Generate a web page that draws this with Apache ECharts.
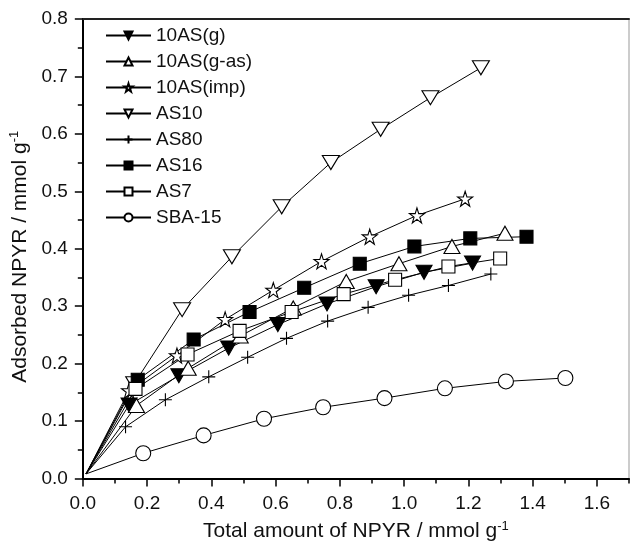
<!DOCTYPE html>
<html><head><meta charset="utf-8">
<script src="https://cdn.jsdelivr.net/npm/echarts@6/dist/echarts.min.js"></script>
<style>html,body{margin:0;padding:0;background:#fff}#c{width:630px;height:547px}</style>
</head><body><div id="c"></div>
<script>
// ---- data ----
const seriesNames = ['10AS(g)', '10AS(g-as)', '10AS(imp)', 'AS10', 'AS80', 'AS16', 'AS7', 'SBA-15'];
const origin = [0.01, 0.008];

const x10ASg   = [0.144, 0.299, 0.454, 0.607, 0.760, 0.913, 1.062, 1.213];
const y10ASg   = [0.128, 0.179, 0.227, 0.268, 0.304, 0.334, 0.359, 0.375];

const x10ASgas = [0.167, 0.328, 0.490, 0.655, 0.820, 0.984, 1.149, 1.314];
const y10ASgas = [0.127, 0.192, 0.248, 0.297, 0.343, 0.374, 0.404, 0.427];

const x10ASimp = [0.144, 0.293, 0.443, 0.593, 0.743, 0.893, 1.040, 1.190];
const y10ASimp = [0.153, 0.214, 0.277, 0.328, 0.378, 0.421, 0.458, 0.487];

const xAS10    = [0.160, 0.309, 0.464, 0.619, 0.772, 0.927, 1.082, 1.239];
const yAS10    = [0.165, 0.294, 0.386, 0.473, 0.550, 0.608, 0.663, 0.715];

const xAS80    = [0.133, 0.257, 0.392, 0.513, 0.634, 0.762, 0.888, 1.014, 1.138, 1.270];
const yAS80    = [0.090, 0.137, 0.177, 0.211, 0.244, 0.274, 0.298, 0.319, 0.336, 0.356];

const xAS16    = [0.171, 0.345, 0.519, 0.689, 0.862, 1.032, 1.206, 1.381];
const yAS16    = [0.172, 0.242, 0.290, 0.332, 0.374, 0.404, 0.418, 0.421];

const xAS7     = [0.164, 0.326, 0.488, 0.650, 0.812, 0.972, 1.138, 1.299];
const yAS7     = [0.156, 0.216, 0.257, 0.290, 0.321, 0.346, 0.369, 0.383];

const xSBA15   = [0.188, 0.376, 0.564, 0.748, 0.939, 1.127, 1.317, 1.502];
const ySBA15   = [0.044, 0.075, 0.104, 0.124, 0.140, 0.157, 0.169, 0.175];

// axis ranges / tick steps
const xRange = [0, 1.7], xMajor = 0.2, xMinor = 0.1;
const yRange = [0, 0.8], yMajor = 0.1;
const xTitle = 'Total amount of NPYR / mmol g';
const yTitle = 'Adsorbed NPYR / mmol g';
const unitSup = '-1';

// ---- styling ----
const FONT = '"Liberation Sans", Arial, sans-serif';
const STAR = 'path://M50,2 L61,36 L97,36 L68,57 L79,92 L50,71 L21,92 L32,57 L3,36 L39,36 Z';
const PLUS = 'path://M0,50 L100,50 M50,0 L50,100';

function build(name, xs, ys, symbol, size, filled, rotate) {
  const data = [{ value: origin, symbol: 'none' }];
  for (let i = 0; i < xs.length; i++) data.push([xs[i], ys[i]]);
  return {
    name, type: 'line', data,
    xAxisIndex: 0, yAxisIndex: 0,
    symbol, symbolSize: size, symbolRotate: rotate || 0,
    showAllSymbol: true,
    lineStyle: { color: '#000', width: 1 },
    itemStyle: { color: filled ? '#000' : '#fff', borderColor: '#000', borderWidth: 1.1 },
    emphasis: { disabled: true },
    animation: false, z: 3
  };
}

const series = [
  build('10AS(g)', x10ASg, y10ASg, 'triangle', [16, 14], true, 180),
  build('10AS(g-as)', x10ASgas, y10ASgas, 'triangle', [16, 14], false, 0),
  build('10AS(imp)', x10ASimp, y10ASimp, STAR, [15, 15], false, 0),
  build('AS10', xAS10, yAS10, 'triangle', [17, 14], false, 180),
  build('AS80', xAS80, yAS80, PLUS, [13, 13], false, 0),
  build('AS16', xAS16, yAS16, 'rect', [13, 13], true, 0),
  build('AS7', xAS7, yAS7, 'rect', [13, 13], false, 0),
  build('SBA-15', xSBA15, ySBA15, 'circle', [15, 15], false, 0)
];

const titleRich = {
  a: { fontSize: 21, fontFamily: FONT, color: '#111', lineHeight: 24 },
  s: { fontSize: 13, fontFamily: FONT, color: '#111', verticalAlign: 'top', lineHeight: 13 }
};

const option = {
  backgroundColor: '#fff',
  animation: false,
  grid: { left: 82, right: 1, top: 19, bottom: 65, show: true, borderColor: '#999', borderWidth: 1, backgroundColor: 'transparent' },
  legend: {
    data: seriesNames, orient: 'vertical', left: 105, top: 26, padding: 0,
    itemWidth: 45, itemHeight: 10, itemGap: 7,
    textStyle: { fontSize: 19, fontFamily: FONT, color: '#111' },
    selectedMode: false
  },
  xAxis: [
    {
      type: 'value', position: 'bottom', min: xRange[0], max: xRange[1], interval: xMajor,
      axisLine: { show: true, onZero: false, lineStyle: { color: '#000', width: 2 } },
      axisTick: { show: true, inside: false, length: 8, lineStyle: { color: '#000', width: 1.5 } },
      splitLine: { show: false },
      axisLabel: { fontSize: 19, fontFamily: FONT, color: '#111', margin: 16, showMaxLabel: false,
        formatter: v => v.toFixed(1) },
      name: '{a|' + xTitle + '}{s|' + unitSup + '}', nameLocation: 'middle', nameGap: 41,
      nameTextStyle: { rich: titleRich }
    },
    {
      type: 'value', position: 'bottom', min: xRange[0], max: xRange[1], interval: xMinor,
      axisLine: { show: false, onZero: false },
      axisTick: { show: true, inside: false, length: 5, lineStyle: { color: '#000', width: 1.5 } },
      axisLabel: { show: false }, splitLine: { show: false }
    },
    {
      type: 'value', position: 'top', min: xRange[0], max: xRange[1],
      axisLine: { show: true, onZero: false, lineStyle: { color: '#222', width: 2 } },
      axisTick: { show: false }, axisLabel: { show: false }, splitLine: { show: false }
    }
  ],
  yAxis: [
    {
      type: 'value', position: 'left', min: yRange[0], max: yRange[1], interval: yMajor,
      axisLine: { show: true, onZero: false, lineStyle: { color: '#000', width: 2 } },
      axisTick: { show: true, inside: false, length: 8, lineStyle: { color: '#000', width: 1.5 } },
      minorTick: { show: true, splitNumber: 2, length: 5, lineStyle: { color: '#000', width: 1.5 } },
      splitLine: { show: false }, minorSplitLine: { show: false },
      axisLabel: { fontSize: 19, fontFamily: FONT, color: '#111', margin: 15,
        formatter: v => v.toFixed(1) },
      name: '{a|' + yTitle + '}{s|' + unitSup + '}', nameLocation: 'middle', nameGap: 46,
      nameTextStyle: { rich: titleRich, padding: [0, 16, 0, 0] }
    }
  ],
  series
};

const chart = echarts.init(document.getElementById('c'), null, { renderer: 'canvas' });
chart.setOption(option);
</script>
</body></html>
